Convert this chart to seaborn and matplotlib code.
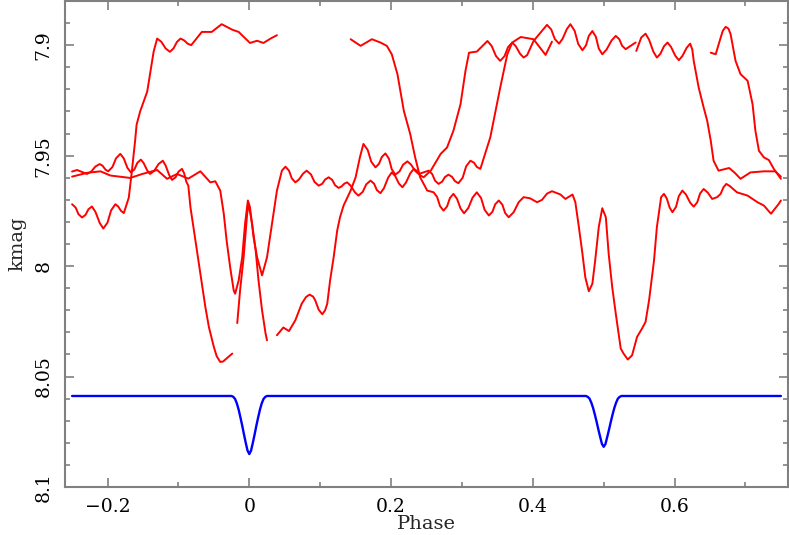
import pandas as pd
import seaborn as sns
import matplotlib
matplotlib.use("Agg")
import matplotlib.pyplot as plt
from matplotlib.ticker import MultipleLocator, FixedLocator, FixedFormatter

# folded light curve, one list of (phase, kmag) per observed stretch
seg_a = [(-0.250, 7.972), (-0.245, 7.9735), (-0.241, 7.9765), (-0.236, 7.978), (-0.231, 7.9768),
         (-0.227, 7.9743), (-0.222, 7.973), (-0.217, 7.9755), (-0.211, 7.9805), (-0.206, 7.983),
         (-0.200, 7.9803), (-0.195, 7.9748), (-0.189, 7.972), (-0.185, 7.973), (-0.181, 7.975),
         (-0.177, 7.976), (-0.170, 7.969), (-0.166, 7.958), (-0.161, 7.943), (-0.159, 7.936),
         (-0.154, 7.930), (-0.144, 7.921), (-0.140, 7.913), (-0.135, 7.903), (-0.130, 7.897),
         (-0.124, 7.8985), (-0.118, 7.9015), (-0.112, 7.903), (-0.107, 7.9015), (-0.102, 7.8985),
         (-0.097, 7.897), (-0.092, 7.8978), (-0.087, 7.8993), (-0.082, 7.900), (-0.067, 7.894),
         (-0.053, 7.894), (-0.039, 7.8905), (-0.024, 7.893), (-0.015, 7.894), (0.001, 7.899),
         (0.011, 7.898), (0.020, 7.899), (0.030, 7.897), (0.039, 7.8955)]

seg_b = [(-0.250, 7.9572), (-0.243, 7.9565), (-0.229, 7.9583), (-0.223, 7.9572), (-0.217, 7.9549),
         (-0.211, 7.9538), (-0.207, 7.9546), (-0.203, 7.9563), (-0.199, 7.9571), (-0.193, 7.9551),
         (-0.188, 7.9512), (-0.182, 7.9492), (-0.177, 7.9513), (-0.172, 7.9555), (-0.167, 7.9576),
         (-0.162, 7.9562), (-0.158, 7.9533), (-0.153, 7.9518), (-0.149, 7.9534), (-0.144, 7.9567),
         (-0.140, 7.9583), (-0.134, 7.9568), (-0.128, 7.9538), (-0.122, 7.9523), (-0.118, 7.9545),
         (-0.113, 7.9588), (-0.109, 7.9610), (-0.104, 7.9598), (-0.100, 7.9573), (-0.095, 7.9560),
         (-0.092, 7.9579), (-0.089, 7.9617), (-0.086, 7.9636), (-0.083, 7.9734), (-0.076, 7.9884),
         (-0.069, 8.0035), (-0.062, 8.0185), (-0.057, 8.0276), (-0.050, 8.0366), (-0.046, 8.0408),
         (-0.041, 8.0434), (-0.037, 8.0432), (-0.032, 8.0418), (-0.024, 8.0396)]

seg_c = [(-0.250, 7.9595), (-0.229, 7.9578), (-0.210, 7.9571), (-0.196, 7.9590), (-0.168, 7.9601),
         (-0.151, 7.9583), (-0.130, 7.9565), (-0.116, 7.9605), (-0.102, 7.9583), (-0.086, 7.9604),
         (-0.069, 7.9571), (-0.055, 7.9621), (-0.048, 7.9616), (-0.041, 7.9658), (-0.036, 7.9763),
         (-0.032, 7.9884), (-0.027, 8.0005), (-0.022, 8.0110), (-0.020, 8.0125), (-0.015, 8.0065),
         (-0.010, 7.9960), (-0.006, 7.9809), (-0.002, 7.9703), (0.001, 7.9734), (0.006, 7.9869),
         (0.011, 7.9960), (0.018, 8.0042), (0.025, 7.9960), (0.032, 7.9809), (0.039, 7.9658),
         (0.046, 7.9568), (0.051, 7.9550), (0.056, 7.9568), (0.060, 7.9603), (0.065, 7.9621),
         (0.070, 7.9608), (0.076, 7.9581), (0.081, 7.9568), (0.087, 7.9585), (0.092, 7.9619),
         (0.098, 7.9636), (0.103, 7.9627), (0.107, 7.9608), (0.112, 7.9598), (0.117, 7.9610),
         (0.121, 7.9634), (0.126, 7.9646), (0.130, 7.9640), (0.134, 7.9627), (0.138, 7.9621),
         (0.143, 7.9636), (0.149, 7.9666), (0.154, 7.9681), (0.160, 7.9664), (0.165, 7.9630),
         (0.171, 7.9613), (0.176, 7.9627), (0.180, 7.9656), (0.185, 7.9670), (0.190, 7.9647),
         (0.196, 7.9599), (0.201, 7.9576), (0.206, 7.9593), (0.211, 7.9626), (0.216, 7.9643),
         (0.221, 7.9622), (0.227, 7.9581), (0.232, 7.9560), (0.237, 7.9570), (0.241, 7.9589),
         (0.246, 7.9598), (0.256, 7.9568), (0.270, 7.9492), (0.279, 7.9463), (0.288, 7.9387),
         (0.298, 7.9267), (0.305, 7.9116), (0.310, 7.9034), (0.321, 7.9029), (0.336, 7.8981),
         (0.342, 7.9004), (0.348, 7.9049), (0.354, 7.9071), (0.360, 7.9050), (0.365, 7.9009),
         (0.371, 7.8988), (0.376, 7.9005), (0.382, 7.9039), (0.387, 7.9056), (0.392, 7.9045),
         (0.401, 7.8981), (0.420, 7.8908), (0.426, 7.8929), (0.431, 7.8972), (0.437, 7.8993),
         (0.442, 7.8971), (0.448, 7.8927), (0.453, 7.8905), (0.459, 7.8935), (0.464, 7.8994),
         (0.470, 7.9023), (0.475, 7.9001), (0.479, 7.8958), (0.484, 7.8936), (0.489, 7.8962),
         (0.493, 7.9015), (0.498, 7.9041), (0.504, 7.9020), (0.511, 7.8979), (0.517, 7.8958),
         (0.522, 7.8973), (0.526, 7.9003), (0.531, 7.9018), (0.545, 7.8988)]

seg_d = [(-0.017, 8.0258), (-0.013, 8.0110), (-0.008, 7.9960), (-0.003, 7.9763), (-0.001, 7.9718),
         (0.004, 7.9809), (0.009, 7.9929), (0.013, 8.0065), (0.018, 8.0200), (0.023, 8.0306),
         (0.025, 8.0336)]

seg_f = [(0.039, 8.0313), (0.048, 8.0278), (0.056, 8.0294), (0.065, 8.0245), (0.074, 8.0170),
         (0.080, 8.0140), (0.085, 8.0129), (0.090, 8.0138), (0.093, 8.0155), (0.098, 8.0198),
         (0.103, 8.0218), (0.107, 8.0200), (0.110, 8.0170), (0.114, 8.0065), (0.119, 7.9960),
         (0.124, 7.9839), (0.128, 7.9779), (0.133, 7.9726), (0.143, 7.9658), (0.150, 7.9598),
         (0.156, 7.9508), (0.161, 7.9447), (0.167, 7.9474), (0.172, 7.9527), (0.178, 7.9553),
         (0.183, 7.9537), (0.187, 7.9506), (0.192, 7.9490), (0.197, 7.9514), (0.201, 7.9562),
         (0.206, 7.9586), (0.212, 7.9571), (0.217, 7.9541), (0.223, 7.9526), (0.228, 7.9540),
         (0.234, 7.9569), (0.239, 7.9583), (0.253, 7.9568), (0.258, 7.9583), (0.262, 7.9613),
         (0.267, 7.9628), (0.272, 7.9618), (0.276, 7.9597), (0.281, 7.9586), (0.286, 7.9596),
         (0.290, 7.9615), (0.295, 7.9625), (0.301, 7.9600), (0.306, 7.9548), (0.312, 7.9523),
         (0.317, 7.9532), (0.321, 7.9551), (0.326, 7.9560), (0.340, 7.9417), (0.354, 7.9192),
         (0.364, 7.9041), (0.371, 7.8988), (0.383, 7.8963), (0.401, 7.8973), (0.418, 7.9044),
         (0.427, 7.8984)]

seg_g = [(0.143, 7.8973), (0.157, 7.9003), (0.173, 7.8973), (0.185, 7.8988), (0.194, 7.9003),
         (0.201, 7.9041), (0.209, 7.9131), (0.218, 7.9297), (0.227, 7.9402), (0.234, 7.9508),
         (0.241, 7.9598), (0.251, 7.9658), (0.260, 7.9666), (0.265, 7.9687), (0.269, 7.9728),
         (0.274, 7.9749), (0.279, 7.9730), (0.283, 7.9692), (0.288, 7.9673), (0.293, 7.9695),
         (0.298, 7.9739), (0.303, 7.9761), (0.309, 7.9737), (0.315, 7.9690), (0.321, 7.9666),
         (0.327, 7.9692), (0.332, 7.9745), (0.338, 7.9771), (0.343, 7.9754), (0.347, 7.9720),
         (0.352, 7.9703), (0.357, 7.9722), (0.361, 7.9760), (0.366, 7.9779), (0.373, 7.9756),
         (0.380, 7.9711), (0.387, 7.9688), (0.396, 7.9693), (0.406, 7.9711), (0.413, 7.9700),
         (0.420, 7.9672), (0.427, 7.9661), (0.439, 7.9676), (0.446, 7.9696), (0.456, 7.9676),
         (0.460, 7.9711), (0.465, 7.9824), (0.470, 7.9944), (0.474, 8.0050), (0.479, 8.0114),
         (0.484, 8.0080), (0.488, 7.9974), (0.493, 7.9824), (0.498, 7.9738), (0.503, 7.9779),
         (0.507, 7.9944), (0.512, 8.0095), (0.517, 8.0215), (0.524, 8.0373), (0.528, 8.0396),
         (0.534, 8.0423), (0.540, 8.0404), (0.547, 8.0321), (0.554, 8.0283), (0.559, 8.0253),
         (0.564, 8.0155), (0.571, 7.9974), (0.575, 7.9824), (0.581, 7.9688), (0.585, 7.9673),
         (0.589, 7.9694), (0.593, 7.9735), (0.597, 7.9756), (0.602, 7.9732), (0.606, 7.9683),
         (0.611, 7.9658), (0.616, 7.9676), (0.622, 7.9713), (0.627, 7.9731), (0.632, 7.9711),
         (0.636, 7.9671), (0.641, 7.9651), (0.647, 7.9668), (0.653, 7.9696), (0.660, 7.9688),
         (0.665, 7.9673), (0.669, 7.9643), (0.673, 7.9628), (0.678, 7.9638), (0.688, 7.9666),
         (0.703, 7.9681), (0.717, 7.9711), (0.726, 7.9726), (0.736, 7.9763), (0.747, 7.9718),
         (0.750, 7.9703)]

seg_h = [(0.546, 7.9026), (0.553, 7.8965), (0.559, 7.8948), (0.564, 7.8975), (0.570, 7.9029),
         (0.575, 7.9056), (0.580, 7.9039), (0.585, 7.9005), (0.590, 7.8988), (0.595, 7.9008),
         (0.601, 7.9048), (0.606, 7.9068), (0.611, 7.9049), (0.617, 7.9012), (0.622, 7.8993),
         (0.625, 7.9020), (0.627, 7.9071), (0.634, 7.9192), (0.641, 7.9282), (0.646, 7.9342),
         (0.651, 7.9432), (0.655, 7.9523), (0.662, 7.9568), (0.677, 7.9556), (0.685, 7.9578),
         (0.693, 7.9605), (0.707, 7.9576), (0.726, 7.9571), (0.742, 7.9571), (0.750, 7.9595)]

seg_i = [(0.651, 7.9034), (0.658, 7.9041), (0.665, 7.8966), (0.668, 7.8935), (0.672, 7.8917),
         (0.676, 7.8925), (0.679, 7.8950), (0.686, 7.9071), (0.693, 7.9131), (0.703, 7.9161),
         (0.710, 7.9267), (0.714, 7.9387), (0.719, 7.9478), (0.726, 7.9508), (0.733, 7.9520),
         (0.740, 7.9560), (0.750, 7.9605)]

# eclipse model
model_phase = [-0.250, -0.025, -0.0225, -0.020, -0.0175, -0.015, -0.0125, -0.010, -0.0075, -0.005,
               -0.0025, 0.0, 0.0025, 0.005, 0.0075, 0.010, 0.0125, 0.015, 0.0175, 0.020,
               0.0225, 0.025, 0.475, 0.4775, 0.480, 0.4825, 0.485, 0.4875, 0.490, 0.4925,
               0.495, 0.4975, 0.500, 0.5025, 0.505, 0.5075, 0.510, 0.5125, 0.515, 0.5175,
               0.520, 0.5225, 0.525, 0.750]
model_mag = [8.0588, 8.0588, 8.0592, 8.0602, 8.0622, 8.0650, 8.0685, 8.0722, 8.0762, 8.0800,
             8.0835, 8.0851, 8.0835, 8.0800, 8.0762, 8.0722, 8.0685, 8.0650, 8.0622, 8.0602,
             8.0592, 8.0588, 8.0588, 8.0592, 8.0600, 8.0618, 8.0642, 8.0672, 8.0705, 8.0740,
             8.0773, 8.0805, 8.0818, 8.0805, 8.0773, 8.0740, 8.0705, 8.0672, 8.0642, 8.0618,
             8.0600, 8.0592, 8.0588, 8.0588]

segments = {"a": seg_a, "b": seg_b, "c": seg_c, "d": seg_d,
            "f": seg_f, "g": seg_g, "h": seg_h, "i": seg_i}
obs = pd.concat(
    [pd.DataFrame(pts, columns=["phase", "kmag"]).assign(seg=k) for k, pts in segments.items()],
    ignore_index=True,
)
model = pd.DataFrame({"phase": model_phase, "kmag": model_mag})

sns.set_style("ticks")
plt.rcParams["font.family"] = ["DejaVu Serif"]

fig = plt.figure(figsize=(7.89, 5.35), dpi=100)
ax = fig.add_axes([65 / 789, 1 - 487 / 535, 723 / 789, 486 / 535])

sns.lineplot(data=obs, x="phase", y="kmag", units="seg", estimator=None, sort=False,
             color="#ff0000", lw=1.4, ax=ax)
sns.lineplot(data=model, x="phase", y="kmag", estimator=None, sort=False,
             color="#0000ff", lw=1.7, ax=ax)

ax.set_xlim(-0.26, 0.76)
ax.set_ylim(8.1, 7.88)

xt = [-0.2, 0.0, 0.2, 0.4, 0.6]
ax.xaxis.set_major_locator(FixedLocator(xt))
ax.xaxis.set_major_formatter(FixedFormatter(["\u22120.2", "0", "0.2", "0.4", "0.6"]))
ax.xaxis.set_minor_locator(MultipleLocator(0.1))
yt = [7.9, 7.95, 8.0, 8.05, 8.1]
ax.yaxis.set_major_locator(FixedLocator(yt))
ax.yaxis.set_major_formatter(FixedFormatter(["7.9", "7.95", "8", "8.05", "8.1"]))
ax.yaxis.set_minor_locator(MultipleLocator(0.01))

frame = "#808080"
for s in ax.spines.values():
    s.set_color(frame)
    s.set_linewidth(1.5)
ax.tick_params(which="both", direction="in", top=True, right=True, color=frame, width=1.2,
               labelsize=13.5, labelcolor="black")
ax.tick_params(which="major", length=6.5)
ax.tick_params(which="minor", length=3.6)
ax.tick_params(axis="x", pad=8)
ax.tick_params(axis="y", pad=9)
for lab in ax.get_yticklabels():
    lab.set_rotation(90)
    lab.set_va("center")

ax.set_xlabel("Phase", fontsize=14, labelpad=-1)
ax.set_ylabel("kmag", fontsize=14, labelpad=6)

fig.savefig("out.png", dpi=100)
